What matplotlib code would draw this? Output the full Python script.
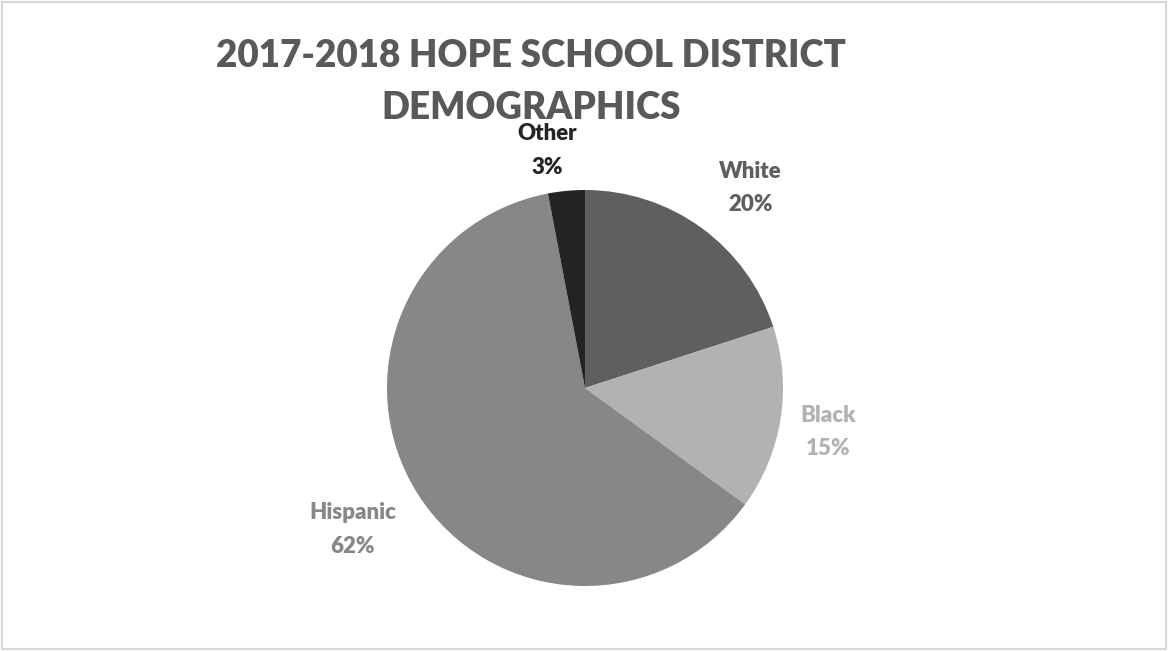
import matplotlib
matplotlib.use("Agg")
import matplotlib.pyplot as plt
from matplotlib.patches import Rectangle

categories = ["White", "Black", "Hispanic", "Other"]
values = [20, 15, 62, 3]
colors = ["#5f5f5f", "#b2b2b2", "#878787", "#242424"]
label_colors = ["#5f5f5f", "#b2b2b2", "#878787", "#242424"]
# label offsets in pie-radius units (x, y)
label_pos = [(0.835, 1.01), (1.23, -0.222), (-1.175, -0.715), (-0.19, 1.198)]

title = "2017-2018 HOPE SCHOOL DISTRICT\nDEMOGRAPHICS"

plt.rcParams['font.family'] = ['Lato', 'DejaVu Sans']

fig = plt.figure(figsize=(11.68, 6.51), dpi=100)
fig.patches.append(Rectangle((0.0017, 0.003), 0.9966, 0.994, transform=fig.transFigure,
                             fill=False, edgecolor="#d9d9d9", linewidth=1.5))

cx, cy, r = 585, 388, 198
W, H = 1168, 651
ax = fig.add_axes([(cx - r) / W, (H - cy - r) / H, 2 * r / W, 2 * r / H])
ax.pie(values, colors=colors, startangle=90, counterclock=False,
       wedgeprops=dict(linewidth=0), radius=1.0)
ax.set_xlim(-1, 1)
ax.set_ylim(-1, 1)
ax.set_aspect('equal')
ax.axis('off')

for cat, v, c, (lx, ly) in zip(categories, values, label_colors, label_pos):
    ax.text(lx, ly, f"{cat}\n{v}%", ha='center', va='center', color=c,
            fontsize=16, fontweight='heavy', linespacing=1.75, clip_on=False)

fig.text(531 / W, 1 - 82 / H, title, ha='center', va='center', color="#595959",
         fontsize=26.5, fontweight='heavy', linespacing=1.65)

fig.savefig("out.png", dpi=100)
